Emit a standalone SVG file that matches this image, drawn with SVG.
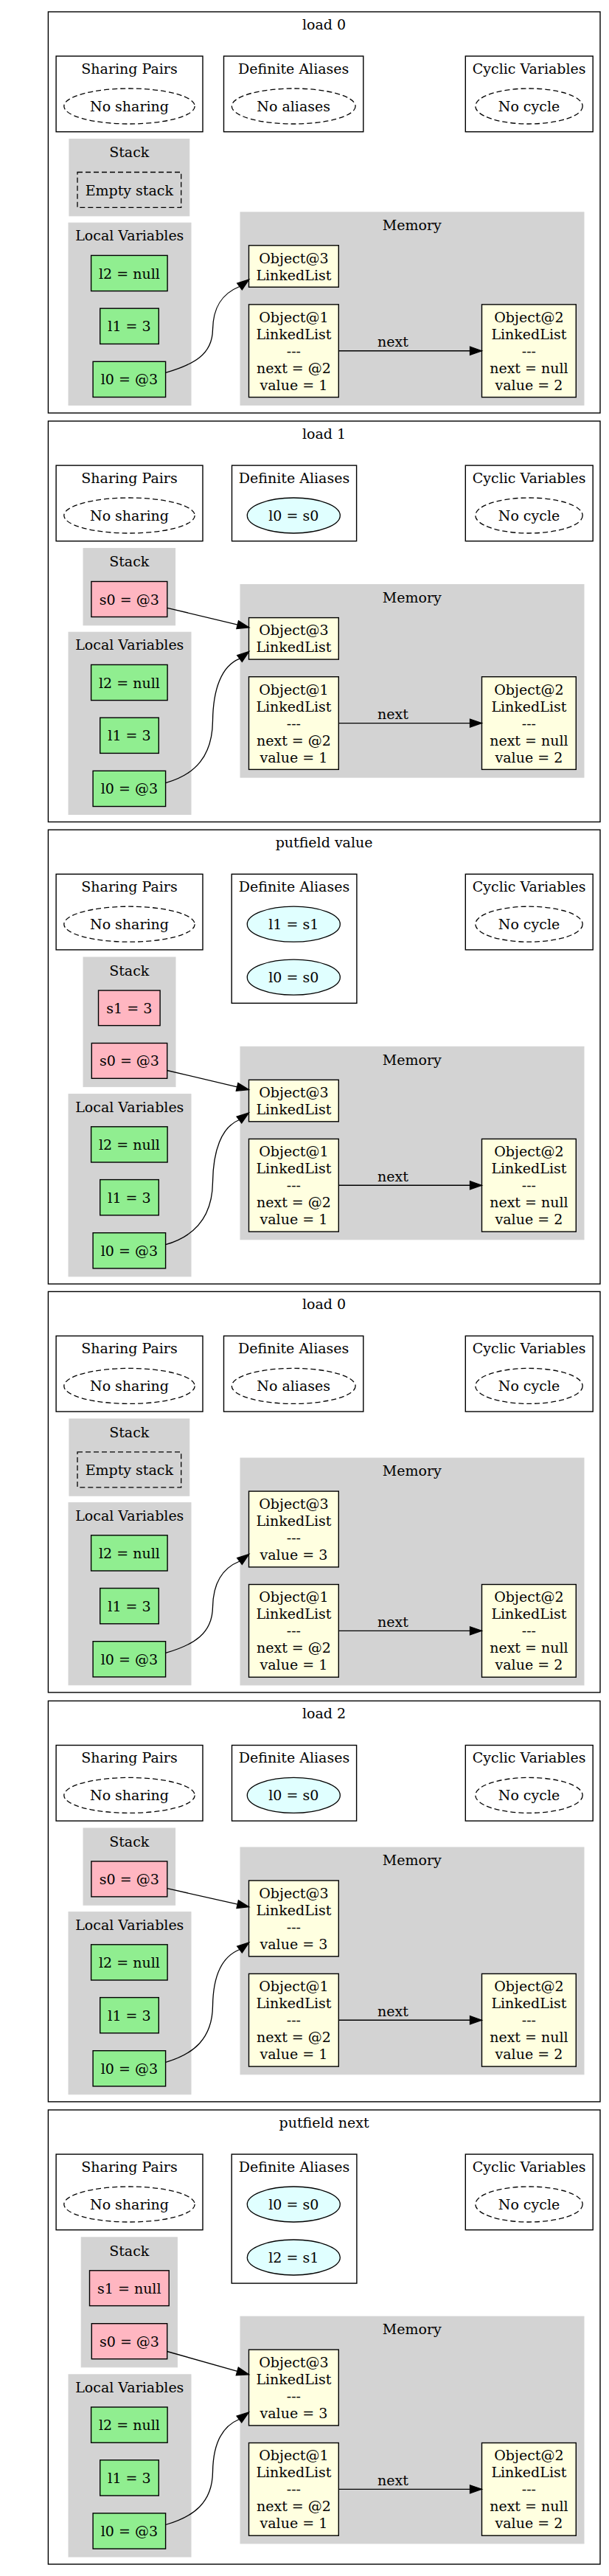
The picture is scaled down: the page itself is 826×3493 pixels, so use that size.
<svg xmlns="http://www.w3.org/2000/svg" width="826" height="3493" viewBox="0 0 826 3493">
<style>
text{font-family:"DejaVu Serif","Liberation Serif",serif;font-size:19px;text-anchor:middle;fill:#000}
.panel{fill:#fff;stroke:#000;stroke-width:1.4}
.cl{fill:#d3d3d3;stroke:#d3d3d3}
.box{fill:#fff;stroke:#000;stroke-width:1.4}
.dash{fill:none;stroke:#000;stroke-width:1.3;stroke-dasharray:7,4}
.loc{fill:#90ee90;stroke:#000;stroke-width:1.4}
.stk{fill:#ffb6c1;stroke:#000;stroke-width:1.4}
.obj{fill:#ffffe0;stroke:#000;stroke-width:1.4}
.ali{fill:#e0ffff;stroke:#000;stroke-width:1.3}
.edge{fill:none;stroke:#000;stroke-width:1.3}
.head{fill:#000;stroke:#000;stroke-width:1.3}
</style>
<rect x="0" y="0" width="826" height="3493" fill="#fff"/>

<!-- ===== Panel 1: load 0 ===== -->
<g id="panel1" transform="translate(0,16)">
<rect class="panel" x="65.4" y="0" width="748.6" height="544"/>
<text x="439.6" y="24">load 0</text>
<g id="p1-sharing"><rect class="box" x="76.1" y="60.1" width="198.9" height="102.6"/><text x="175.5" y="84">Sharing Pairs</text><ellipse class="dash" cx="175.5" cy="128" rx="88.7" ry="24"/><text x="175.5" y="135">No sharing</text></g>
<g id="p1-aliases"><rect class="box" x="303.5" y="60.1" width="189.3" height="102.6"/><text x="398.2" y="84">Definite Aliases</text><ellipse class="dash" cx="398.2" cy="128" rx="83.9" ry="24"/><text x="398.2" y="135">No aliases</text></g>
<g id="p1-cyclic"><rect class="box" x="631.3" y="60.1" width="172.9" height="102.6"/><text x="717.7" y="84">Cyclic Variables</text><ellipse class="dash" cx="717.5" cy="128" rx="72.7" ry="24"/><text x="717.5" y="135">No cycle</text></g>
<g id="p1-stack"><rect class="cl" x="93.9" y="172.6" width="162.9" height="104.2"/><text x="175.3" y="197.4">Stack</text><rect class="dash" x="105" y="217.5" width="140.7" height="47.9"/><text x="175.3" y="248.5">Empty stack</text></g>
<g id="p1-locals"><rect class="cl" x="93" y="286.2" width="166" height="247.2"/><text x="175.8" y="310.4">Local Variables</text>
<g id="p1-l2"><rect class="loc" x="123.6" y="330.4" width="103.5" height="48.2"/><text x="175.4" y="361.5">l2 = null</text></g>
<g id="p1-l1"><rect class="loc" x="135.7" y="402.2" width="79.6" height="48.2"/><text x="175.5" y="433.3">l1 = 3</text></g>
<g id="p1-l0"><rect class="loc" x="126.1" y="474.3" width="98.5" height="48.2"/><text x="175.4" y="505.4">l0 = @3</text></g></g>
<g id="p1-memory"><rect class="cl" x="326" y="271.8" width="466" height="261.5"/><text x="558.8" y="296.1">Memory</text>
<g id="p1-obj3"><rect class="obj" x="337.5" y="316.8" width="121.8" height="56.5"/><text x="398.4" y="340.5">Object@3</text><text x="398.4" y="363.5">LinkedList</text></g>
<g id="p1-obj1"><rect class="obj" x="337.5" y="396.9" width="121.8" height="125.7"/><text x="398.4" y="420.8">Object@1</text><text x="398.4" y="443.8">LinkedList</text><text x="398.4" y="466.8">---</text><text x="398.4" y="489.8">next = @2</text><text x="398.4" y="512.8">value = 1</text></g>
<g id="p1-obj2"><rect class="obj" x="653.5" y="396.9" width="127.8" height="125.7"/><text x="717.4" y="420.8">Object@2</text><text x="717.4" y="443.8">LinkedList</text><text x="717.4" y="466.8">---</text><text x="717.4" y="489.8">next = null</text><text x="717.4" y="512.8">value = 2</text></g></g>
<g id="p1-edges">
<path class="edge" d="M224.6,489.3 C262.6,478.3 288,464.8 288.5,430.9 C289,401.7 300,382.5 325,372.5"/><polygon class="head" points="337.8,362.9 328.3,376.9 321.7,368.1"/>
<path class="edge" d="M459.3,459.75 L637.5,459.75"/><polygon class="head" points="653.5,459.75 637.5,454.25 637.5,465.25"/><text x="533" y="454.4">next</text>
</g>
</g>

<!-- ===== Panel 2: load 1 ===== -->
<g id="panel2" transform="translate(0,571)">
<rect class="panel" x="65.4" y="0" width="748.6" height="543.5"/>
<text x="439.6" y="24">load 1</text>
<g id="p2-sharing"><rect class="box" x="76.1" y="60.1" width="198.9" height="102.6"/><text x="175.5" y="84">Sharing Pairs</text><ellipse class="dash" cx="175.5" cy="128" rx="88.7" ry="24"/><text x="175.5" y="135">No sharing</text></g>
<g id="p2-aliases"><rect class="box" x="314.5" y="60.1" width="169.1" height="102.6"/><text x="399" y="84">Definite Aliases</text><ellipse class="ali" cx="398.3" cy="128" rx="63" ry="24"/><text x="398.3" y="135">l0 = s0</text></g>
<g id="p2-cyclic"><rect class="box" x="631.3" y="60.1" width="172.9" height="102.6"/><text x="717.7" y="84">Cyclic Variables</text><ellipse class="dash" cx="717.5" cy="128" rx="72.7" ry="24"/><text x="717.5" y="135">No cycle</text></g>
<g id="p2-stack"><rect class="cl" x="113" y="172.6" width="124.6" height="104.2"/><text x="175.3" y="197.4">Stack</text>
<g id="p2-s0"><rect class="stk" x="123.9" y="217.5" width="102.9" height="48"/><text x="175.3" y="248.5">s0 = @3</text></g></g>
<g id="p2-locals"><rect class="cl" x="93" y="286.2" width="166" height="247.2"/><text x="175.8" y="310.4">Local Variables</text>
<g id="p2-l2"><rect class="loc" x="123.6" y="330.4" width="103.5" height="48.2"/><text x="175.4" y="361.5">l2 = null</text></g>
<g id="p2-l1"><rect class="loc" x="135.7" y="402.2" width="79.6" height="48.2"/><text x="175.5" y="433.3">l1 = 3</text></g>
<g id="p2-l0"><rect class="loc" x="126.1" y="474.3" width="98.5" height="48.2"/><text x="175.4" y="505.4">l0 = @3</text></g></g>
<g id="p2-memory"><rect class="cl" x="326" y="221.6" width="466" height="261.5"/><text x="558.8" y="245.9">Memory</text>
<g id="p2-obj3"><rect class="obj" x="337.5" y="266.6" width="121.8" height="56.5"/><text x="398.4" y="290.3">Object@3</text><text x="398.4" y="313.3">LinkedList</text></g>
<g id="p2-obj1"><rect class="obj" x="337.5" y="346.7" width="121.8" height="125.7"/><text x="398.4" y="370.6">Object@1</text><text x="398.4" y="393.6">LinkedList</text><text x="398.4" y="416.6">---</text><text x="398.4" y="439.6">next = @2</text><text x="398.4" y="462.6">value = 1</text></g>
<g id="p2-obj2"><rect class="obj" x="653.5" y="346.7" width="127.8" height="125.7"/><text x="717.4" y="370.6">Object@2</text><text x="717.4" y="393.6">LinkedList</text><text x="717.4" y="416.6">---</text><text x="717.4" y="439.6">next = null</text><text x="717.4" y="462.6">value = 2</text></g></g>
<g id="p2-edges">
<path class="edge" d="M226.8,253.3 L322.2,276.1"/><polygon class="head" points="337.8,279.8 320.9,281.4 323.5,270.7"/>
<path class="edge" d="M224.6,490.6 C264,479.6 288,455.2 288.5,406.4 C289,364.2 300,332.1 325,322.1"/><polygon class="head" points="337.8,312.5 328.3,326.5 321.7,317.7"/>
<path class="edge" d="M459.3,409.55 L637.5,409.55"/><polygon class="head" points="653.5,409.55 637.5,404.05 637.5,415.05"/><text x="533" y="404.2">next</text>
</g>
</g>

<!-- ===== Panel 3: putfield value ===== -->
<g id="panel3" transform="translate(0,1125.2)">
<rect class="panel" x="65.4" y="0" width="748.6" height="615.8"/>
<text x="439.6" y="24">putfield value</text>
<g id="p3-sharing"><rect class="box" x="76.1" y="60.1" width="198.9" height="102.6"/><text x="175.5" y="84">Sharing Pairs</text><ellipse class="dash" cx="175.5" cy="128" rx="88.7" ry="24"/><text x="175.5" y="135">No sharing</text></g>
<g id="p3-aliases"><rect class="box" x="314.2" y="60.1" width="169.7" height="175"/><text x="399" y="84">Definite Aliases</text><ellipse class="ali" cx="398.3" cy="128" rx="63" ry="24"/><text x="398.3" y="135">l1 = s1</text><ellipse class="ali" cx="398.3" cy="200" rx="63" ry="24"/><text x="398.3" y="207">l0 = s0</text></g>
<g id="p3-cyclic"><rect class="box" x="631.3" y="60.1" width="172.9" height="102.6"/><text x="717.7" y="84">Cyclic Variables</text><ellipse class="dash" cx="717.5" cy="128" rx="72.7" ry="24"/><text x="717.5" y="135">No cycle</text></g>
<g id="p3-stack"><rect class="cl" x="113" y="172.8" width="125" height="175.6"/><text x="175.3" y="197.6">Stack</text>
<g id="p3-s1"><rect class="stk" x="133.5" y="217.8" width="83.6" height="47.6"/><text x="175.3" y="248.6">s1 = 3</text></g>
<g id="p3-s0"><rect class="stk" x="124.3" y="289.3" width="102.4" height="47.8"/><text x="175.5" y="320.2">s0 = @3</text></g></g>
<g id="p3-locals"><rect class="cl" x="93" y="358.4" width="166" height="247.2"/><text x="175.8" y="382.6">Local Variables</text>
<g id="p3-l2"><rect class="loc" x="123.6" y="402.6" width="103.5" height="48.2"/><text x="175.4" y="433.7">l2 = null</text></g>
<g id="p3-l1"><rect class="loc" x="135.7" y="474.4" width="79.6" height="48.2"/><text x="175.5" y="505.5">l1 = 3</text></g>
<g id="p3-l0"><rect class="loc" x="126.1" y="546.5" width="98.5" height="48.2"/><text x="175.4" y="577.6">l0 = @3</text></g></g>
<g id="p3-memory"><rect class="cl" x="326" y="294.1" width="466" height="261.5"/><text x="558.8" y="318.4">Memory</text>
<g id="p3-obj3"><rect class="obj" x="337.5" y="339.1" width="121.8" height="56.5"/><text x="398.4" y="362.8">Object@3</text><text x="398.4" y="385.8">LinkedList</text></g>
<g id="p3-obj1"><rect class="obj" x="337.5" y="419.2" width="121.8" height="125.7"/><text x="398.4" y="443.1">Object@1</text><text x="398.4" y="466.1">LinkedList</text><text x="398.4" y="489.1">---</text><text x="398.4" y="512.1">next = @2</text><text x="398.4" y="535.1">value = 1</text></g>
<g id="p3-obj2"><rect class="obj" x="653.5" y="419.2" width="127.8" height="125.7"/><text x="717.4" y="443.1">Object@2</text><text x="717.4" y="466.1">LinkedList</text><text x="717.4" y="489.1">---</text><text x="717.4" y="512.1">next = null</text><text x="717.4" y="535.1">value = 2</text></g></g>
<g id="p3-edges">
<path class="edge" d="M226.7,326.3 L321.6,348.7"/><polygon class="head" points="337.5,352.4 320.3,354.1 322.9,343.4"/>
<path class="edge" d="M224.6,562.5 C262.7,551.5 288,527 288.5,477.9 C289,435.6 300,403.3 324.4,393.3"/><polygon class="head" points="337.5,383.7 327.7,397.7 321.1,388.9"/>
<path class="edge" d="M459.3,482.05 L637.5,482.05"/><polygon class="head" points="653.5,482.05 637.5,476.55 637.5,487.55"/><text x="533" y="476.7">next</text>
</g>
</g>

<!-- ===== Panel 4: load 0 ===== -->
<g id="panel4" transform="translate(0,1751.4)">
<rect class="panel" x="65.4" y="0" width="748.6" height="543.5"/>
<text x="439.6" y="24">load 0</text>
<g id="p4-sharing"><rect class="box" x="76.1" y="60.1" width="198.9" height="102.6"/><text x="175.5" y="84">Sharing Pairs</text><ellipse class="dash" cx="175.5" cy="128" rx="88.7" ry="24"/><text x="175.5" y="135">No sharing</text></g>
<g id="p4-aliases"><rect class="box" x="303.5" y="60.1" width="189.3" height="102.6"/><text x="398.2" y="84">Definite Aliases</text><ellipse class="dash" cx="398.2" cy="128" rx="83.9" ry="24"/><text x="398.2" y="135">No aliases</text></g>
<g id="p4-cyclic"><rect class="box" x="631.3" y="60.1" width="172.9" height="102.6"/><text x="717.7" y="84">Cyclic Variables</text><ellipse class="dash" cx="717.5" cy="128" rx="72.7" ry="24"/><text x="717.5" y="135">No cycle</text></g>
<g id="p4-stack"><rect class="cl" x="93.9" y="172.6" width="162.9" height="104.2"/><text x="175.3" y="197.4">Stack</text><rect class="dash" x="105" y="217.5" width="140.7" height="47.9"/><text x="175.3" y="248.5">Empty stack</text></g>
<g id="p4-locals"><rect class="cl" x="93" y="286.2" width="166" height="247.2"/><text x="175.8" y="310.4">Local Variables</text>
<g id="p4-l2"><rect class="loc" x="123.6" y="330.4" width="103.5" height="48.2"/><text x="175.4" y="361.5">l2 = null</text></g>
<g id="p4-l1"><rect class="loc" x="135.7" y="402.2" width="79.6" height="48.2"/><text x="175.5" y="433.3">l1 = 3</text></g>
<g id="p4-l0"><rect class="loc" x="126.1" y="474.3" width="98.5" height="48.2"/><text x="175.4" y="505.4">l0 = @3</text></g></g>
<g id="p4-memory"><rect class="cl" x="326" y="225.7" width="466" height="307.8"/><text x="558.8" y="250">Memory</text>
<g id="p4-obj3"><rect class="obj" x="337.5" y="270.7" width="121.8" height="102.8"/><text x="398.4" y="294.6">Object@3</text><text x="398.4" y="317.6">LinkedList</text><text x="398.4" y="340.6">---</text><text x="398.4" y="363.6">value = 3</text></g>
<g id="p4-obj1"><rect class="obj" x="337.5" y="397.1" width="121.8" height="125.7"/><text x="398.4" y="421">Object@1</text><text x="398.4" y="444">LinkedList</text><text x="398.4" y="467">---</text><text x="398.4" y="490">next = @2</text><text x="398.4" y="513">value = 1</text></g>
<g id="p4-obj2"><rect class="obj" x="653.5" y="397.1" width="127.8" height="125.7"/><text x="717.4" y="421">Object@2</text><text x="717.4" y="444">LinkedList</text><text x="717.4" y="467">---</text><text x="717.4" y="490">next = null</text><text x="717.4" y="513">value = 2</text></g></g>
<g id="p4-edges">
<path class="edge" d="M224.6,490 C262.6,479 288,463.9 288.5,427.8 C289,396.7 300,375.6 325,365.6"/><polygon class="head" points="337.8,356 328.3,370 321.7,361.2"/>
<path class="edge" d="M459.3,459.95 L637.5,459.95"/><polygon class="head" points="653.5,459.95 637.5,454.45 637.5,465.45"/><text x="533" y="454.6">next</text>
</g>
</g>

<!-- ===== Panel 5: load 2 ===== -->
<g id="panel5" transform="translate(0,2306.4)">
<rect class="panel" x="65.4" y="0" width="748.6" height="543.5"/>
<text x="439.6" y="24">load 2</text>
<g id="p5-sharing"><rect class="box" x="76.1" y="60.1" width="198.9" height="102.6"/><text x="175.5" y="84">Sharing Pairs</text><ellipse class="dash" cx="175.5" cy="128" rx="88.7" ry="24"/><text x="175.5" y="135">No sharing</text></g>
<g id="p5-aliases"><rect class="box" x="314.5" y="60.1" width="169.1" height="102.6"/><text x="399" y="84">Definite Aliases</text><ellipse class="ali" cx="398.3" cy="128" rx="63" ry="24"/><text x="398.3" y="135">l0 = s0</text></g>
<g id="p5-cyclic"><rect class="box" x="631.3" y="60.1" width="172.9" height="102.6"/><text x="717.7" y="84">Cyclic Variables</text><ellipse class="dash" cx="717.5" cy="128" rx="72.7" ry="24"/><text x="717.5" y="135">No cycle</text></g>
<g id="p5-stack"><rect class="cl" x="113" y="172.6" width="124.6" height="104.2"/><text x="175.3" y="197.4">Stack</text>
<g id="p5-s0"><rect class="stk" x="123.9" y="217.5" width="102.9" height="48"/><text x="175.3" y="248.5">s0 = @3</text></g></g>
<g id="p5-locals"><rect class="cl" x="93" y="286.2" width="166" height="247.2"/><text x="175.8" y="310.4">Local Variables</text>
<g id="p5-l2"><rect class="loc" x="123.6" y="330.4" width="103.5" height="48.2"/><text x="175.4" y="361.5">l2 = null</text></g>
<g id="p5-l1"><rect class="loc" x="135.7" y="402.2" width="79.6" height="48.2"/><text x="175.5" y="433.3">l1 = 3</text></g>
<g id="p5-l0"><rect class="loc" x="126.1" y="474.3" width="98.5" height="48.2"/><text x="175.4" y="505.4">l0 = @3</text></g></g>
<g id="p5-memory"><rect class="cl" x="326" y="198.6" width="466" height="307.8"/><text x="558.8" y="222.9">Memory</text>
<g id="p5-obj3"><rect class="obj" x="337.5" y="243.6" width="121.8" height="102.8"/><text x="398.4" y="267.5">Object@3</text><text x="398.4" y="290.5">LinkedList</text><text x="398.4" y="313.5">---</text><text x="398.4" y="336.5">value = 3</text></g>
<g id="p5-obj1"><rect class="obj" x="337.5" y="370" width="121.8" height="125.7"/><text x="398.4" y="393.9">Object@1</text><text x="398.4" y="416.9">LinkedList</text><text x="398.4" y="439.9">---</text><text x="398.4" y="462.9">next = @2</text><text x="398.4" y="485.9">value = 1</text></g>
<g id="p5-obj2"><rect class="obj" x="653.5" y="370" width="127.8" height="125.7"/><text x="717.4" y="393.9">Object@2</text><text x="717.4" y="416.9">LinkedList</text><text x="717.4" y="439.9">---</text><text x="717.4" y="462.9">next = null</text><text x="717.4" y="485.9">value = 2</text></g></g>
<g id="p5-edges">
<path class="edge" d="M226.8,254.3 L322.2,275.8"/><polygon class="head" points="337.8,279.3 321,281.2 323.4,270.4"/>
<path class="edge" d="M224.6,490 C262.6,479 288,457.9 288.5,413.6 C289,375.3 300,347.1 325,337.1"/><polygon class="head" points="337.8,327.5 328.3,341.5 321.7,332.7"/>
<path class="edge" d="M459.3,432.85 L637.5,432.85"/><polygon class="head" points="653.5,432.85 637.5,427.35 637.5,438.35"/><text x="533" y="427.5">next</text>
</g>
</g>

<!-- ===== Panel 6: putfield next ===== -->
<g id="panel6" transform="translate(0,2861)">
<rect class="panel" x="65.4" y="0" width="748.6" height="616"/>
<text x="439.6" y="24">putfield next</text>
<g id="p6-sharing"><rect class="box" x="76.1" y="60.1" width="198.9" height="102.6"/><text x="175.5" y="84">Sharing Pairs</text><ellipse class="dash" cx="175.5" cy="128" rx="88.7" ry="24"/><text x="175.5" y="135">No sharing</text></g>
<g id="p6-aliases"><rect class="box" x="314.2" y="60.1" width="169.7" height="175"/><text x="399" y="84">Definite Aliases</text><ellipse class="ali" cx="398.3" cy="128" rx="63" ry="24"/><text x="398.3" y="135">l0 = s0</text><ellipse class="ali" cx="398.3" cy="200" rx="63" ry="24"/><text x="398.3" y="207">l2 = s1</text></g>
<g id="p6-cyclic"><rect class="box" x="631.3" y="60.1" width="172.9" height="102.6"/><text x="717.7" y="84">Cyclic Variables</text><ellipse class="dash" cx="717.5" cy="128" rx="72.7" ry="24"/><text x="717.5" y="135">No cycle</text></g>
<g id="p6-stack"><rect class="cl" x="110.2" y="172.8" width="130.2" height="176"/><text x="175.3" y="197.6">Stack</text>
<g id="p6-s1"><rect class="stk" x="121.5" y="217.8" width="107.7" height="47.8"/><text x="175.3" y="248.7">s1 = null</text></g>
<g id="p6-s0"><rect class="stk" x="124.3" y="289.7" width="102.4" height="48"/><text x="175.5" y="320.7">s0 = @3</text></g></g>
<g id="p6-locals"><rect class="cl" x="93" y="358.8" width="166" height="247.2"/><text x="175.8" y="383">Local Variables</text>
<g id="p6-l2"><rect class="loc" x="123.6" y="403" width="103.5" height="48.2"/><text x="175.4" y="434.1">l2 = null</text></g>
<g id="p6-l1"><rect class="loc" x="135.7" y="474.8" width="79.6" height="48.2"/><text x="175.5" y="505.9">l1 = 3</text></g>
<g id="p6-l0"><rect class="loc" x="126.1" y="546.9" width="98.5" height="48.2"/><text x="175.4" y="578">l0 = @3</text></g></g>
<g id="p6-memory"><rect class="cl" x="326" y="280.1" width="466" height="307.8"/><text x="558.8" y="304.4">Memory</text>
<g id="p6-obj3"><rect class="obj" x="337.5" y="325.1" width="121.8" height="102.8"/><text x="398.4" y="349">Object@3</text><text x="398.4" y="372">LinkedList</text><text x="398.4" y="395">---</text><text x="398.4" y="418">value = 3</text></g>
<g id="p6-obj1"><rect class="obj" x="337.5" y="451.5" width="121.8" height="125.7"/><text x="398.4" y="475.4">Object@1</text><text x="398.4" y="498.4">LinkedList</text><text x="398.4" y="521.4">---</text><text x="398.4" y="544.4">next = @2</text><text x="398.4" y="567.4">value = 1</text></g>
<g id="p6-obj2"><rect class="obj" x="653.5" y="451.5" width="127.8" height="125.7"/><text x="717.4" y="475.4">Object@2</text><text x="717.4" y="498.4">LinkedList</text><text x="717.4" y="521.4">---</text><text x="717.4" y="544.4">next = null</text><text x="717.4" y="567.4">value = 2</text></g></g>
<g id="p6-edges">
<path class="edge" d="M226.7,327.5 L321.8,354.4"/><polygon class="head" points="337.5,358.8 320.3,359.7 323.3,349.1"/>
<path class="edge" d="M224.6,562.5 C262.7,551.5 288,532.5 288.5,491 C289,455.3 300,429.5 324.4,419.5"/><polygon class="head" points="337.5,409.9 327.7,423.9 321.1,415.1"/>
<path class="edge" d="M459.3,514.35 L637.5,514.35"/><polygon class="head" points="653.5,514.35 637.5,508.85 637.5,519.85"/><text x="533" y="509">next</text>
</g>
</g>
</svg>
